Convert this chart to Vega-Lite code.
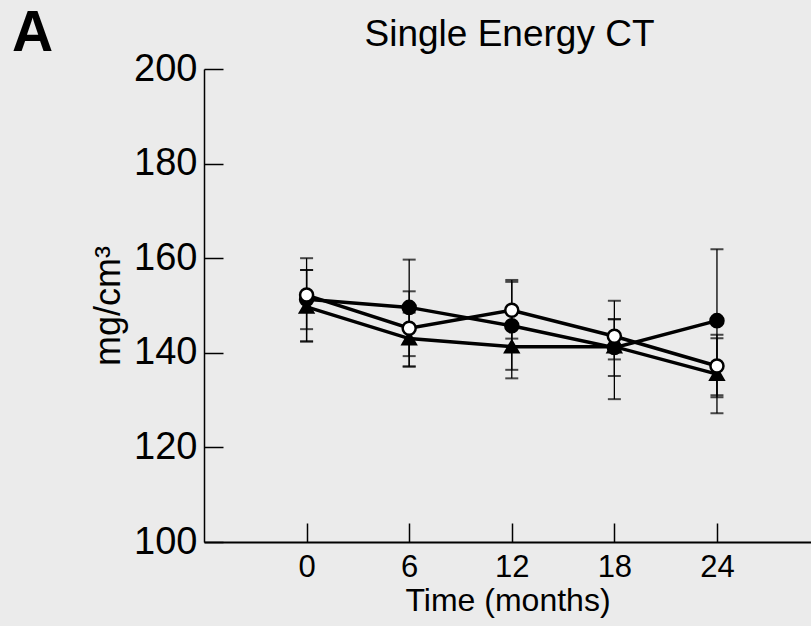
{
  "$schema": "https://vega.github.io/schema/vega-lite/v6.json",
  "width": 607,
  "height": 473,
  "autosize": {"type": "none"},
  "padding": {"left": 204, "top": 69, "right": 0, "bottom": 84},
  "background": "#ebebeb",
  "config": {"view": {"stroke": null}, "font": "Liberation Sans"},
  "title": {"text": "A", "anchor": "start", "frame": "group", "fontSize": 57, "fontWeight": "bold", "color": "#000000", "dx": -192, "offset": -48, "font": "Liberation Sans"},
  "data": {"values": [
    {"t": 0, "series": "filled", "v": 151.3, "lo": 142.4, "hi": 160.0},
    {"t": 0, "series": "triangle", "v": 149.7, "lo": 142.4, "hi": 157.5},
    {"t": 0, "series": "open", "v": 152.2, "lo": 145.0, "hi": 157.5},
    {"t": 6, "series": "filled", "v": 149.6, "lo": 139.3, "hi": 159.7},
    {"t": 6, "series": "triangle", "v": 143.0, "lo": 137.1, "hi": 148.5},
    {"t": 6, "series": "open", "v": 145.2, "lo": 137.1, "hi": 153.0},
    {"t": 12, "series": "filled", "v": 145.7, "lo": 134.6, "hi": 155.4},
    {"t": 12, "series": "triangle", "v": 141.3, "lo": 136.4, "hi": 146.2},
    {"t": 12, "series": "open", "v": 149.0, "lo": 143.0, "hi": 155.0},
    {"t": 18, "series": "filled", "v": 141.1, "lo": 130.2, "hi": 151.0},
    {"t": 18, "series": "triangle", "v": 141.3, "lo": 135.1, "hi": 147.1},
    {"t": 18, "series": "open", "v": 143.5, "lo": 138.6, "hi": 147.1},
    {"t": 24, "series": "filled", "v": 146.8, "lo": 131.0, "hi": 161.9},
    {"t": 24, "series": "triangle", "v": 135.5, "lo": 127.2, "hi": 143.8},
    {"t": 24, "series": "open", "v": 137.2, "lo": 130.6, "hi": 143.1}
  ]},
  "resolve": {"axis": {"x": "independent"}},
  "layer": [
    {
      "mark": {"type": "rule", "strokeWidth": 1.3, "color": "#000000"},
      "encoding": {
        "x": {"field": "t", "type": "quantitative", "scale": {"domain": [-6, 29.5], "nice": false, "zero": false},
          "axis": {"orient": "bottom", "values": [0, 6, 12, 18, 24], "tickSize": -19, "tickWidth": 1.5, "tickColor": "#000000", "domainColor": "#000000", "domainWidth": 2, "grid": false, "labelFontSize": 31, "labelColor": "#000000", "labelPadding": 29, "labelFont": "Liberation Sans", "title": "Time (months)", "titleFontSize": 32, "titleFontWeight": "normal", "titleColor": "#000000", "titlePadding": 3, "titleFont": "Liberation Sans"}},
        "y": {"field": "lo", "type": "quantitative", "scale": {"domain": [100, 200], "nice": false, "zero": false},
          "axis": {"orient": "left", "values": [100, 120, 140, 160, 180, 200], "tickSize": -19, "tickWidth": 1.5, "tickColor": "#000000", "domainColor": "#000000", "domainWidth": 1.5, "grid": false, "labelFontSize": 38, "labelColor": "#000000", "labelPadding": 26, "labelFont": "Liberation Sans", "title": "mg/cm³", "titleFontSize": 36, "titleFontWeight": "normal", "titleColor": "#000000", "titlePadding": 6, "titleFont": "Liberation Sans"}},
        "y2": {"field": "hi"}
      }
    },
    {
      "mark": {"type": "tick", "orient": "horizontal", "size": 13, "thickness": 2, "color": "#000000"},
      "encoding": {
        "x": {"field": "t", "type": "quantitative",
          "axis": {"orient": "top", "domain": false, "ticks": false, "labels": false, "grid": false, "title": "Single Energy CT", "titleFontSize": 37, "titleFontWeight": "normal", "titleColor": "#000000", "titleFont": "Liberation Sans", "titleX": 305, "titleY": -24, "titleBaseline": "alphabetic"}},
        "y": {"field": "lo", "type": "quantitative"}
      }
    },
    {
      "mark": {"type": "tick", "orient": "horizontal", "size": 13, "thickness": 2, "color": "#000000"},
      "encoding": {
        "x": {"field": "t", "type": "quantitative", "axis": null},
        "y": {"field": "hi", "type": "quantitative"}
      }
    },
    {
      "mark": {"type": "line", "strokeWidth": 3.5, "color": "#000000"},
      "encoding": {
        "x": {"field": "t", "type": "quantitative", "axis": null},
        "y": {"field": "v", "type": "quantitative"},
        "detail": {"field": "series", "type": "nominal"}
      }
    },
    {
      "mark": {"type": "point", "filled": true, "stroke": "#000000", "strokeWidth": 2.5, "opacity": 1},
      "encoding": {
        "x": {"field": "t", "type": "quantitative", "axis": null},
        "y": {"field": "v", "type": "quantitative"},
        "shape": {"field": "series", "type": "nominal", "scale": {"domain": ["filled", "triangle", "open"], "range": ["circle", "triangle-up", "circle"]}, "legend": null},
        "fill": {"field": "series", "type": "nominal", "scale": {"domain": ["filled", "triangle", "open"], "range": ["#000000", "#000000", "#ffffff"]}, "legend": null},
        "size": {"value": 170}
      }
    }
  ]
}
